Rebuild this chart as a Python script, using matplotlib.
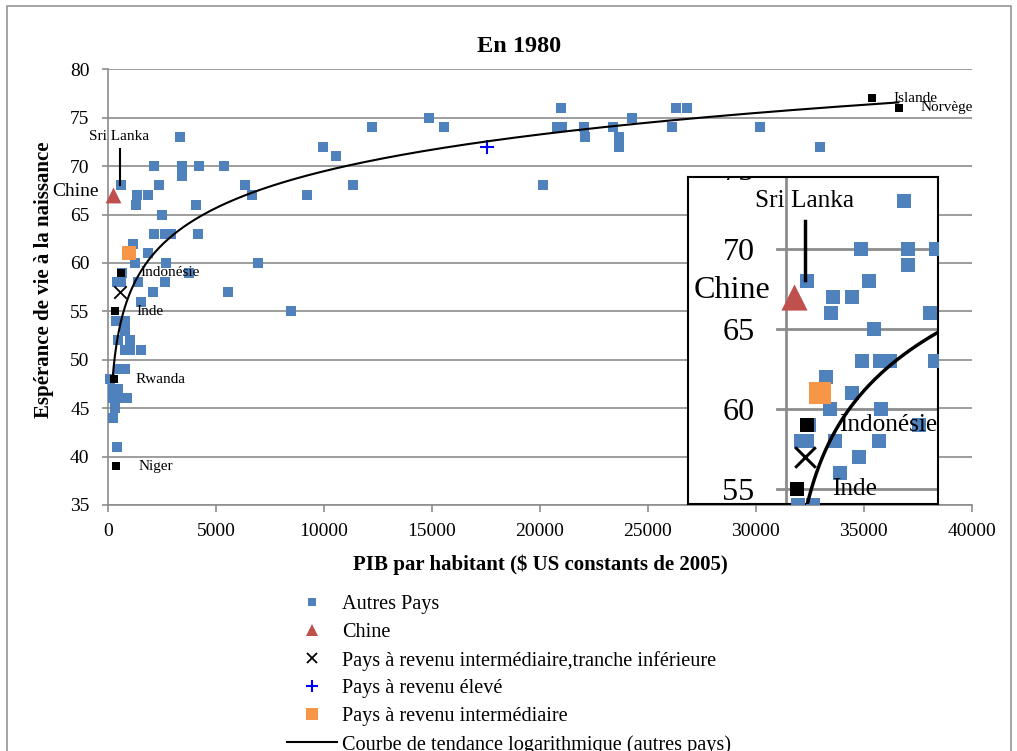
import numpy as np
import matplotlib
matplotlib.use('Agg')
import matplotlib.pyplot as plt
from matplotlib.patches import Rectangle
from matplotlib.lines import Line2D

plt.rcParams['font.family'] = ['Liberation Serif', 'DejaVu Serif']

# ---- data (PIB par habitant, esperance de vie) ----
autres_x = [20992, 26320, 26830,
            14877, 24281,
            12236, 15572, 20807, 21039, 22058, 23401, 26135, 30213,
            3320, 22104, 23679,
            9964, 23679, 32993,
            10554,
            2100, 3420, 4200, 5376,
            3420,
            575, 2330, 6349, 11355, 20158,
            1320, 1857, 6673, 9222,
            1265, 4050,
            2470,
            2140, 2640, 2920, 4174,
            1130,
            1856,
            1240, 2660, 6951,
            650, 3730,
            420, 600, 1380, 2620,
            2055, 5561,
            1510,
            8467,
            340, 770,
            774,
            463, 1006,
            774, 1006, 1515,
            454, 779,
            83,
            222, 450,
            222, 640, 870,
            310,
            232,
            417]
autres_y = [76, 76, 76,
            75, 75,
            74, 74, 74, 74, 74, 74, 74, 74,
            73, 73, 73,
            72, 72, 72,
            71,
            70, 70, 70, 70,
            69,
            68, 68, 68, 68, 68,
            67, 67, 67, 67,
            66, 66,
            65,
            63, 63, 63, 63,
            62,
            61,
            60, 60, 60,
            59, 59,
            58, 58, 58, 58,
            57, 57,
            56,
            55,
            54, 54,
            53,
            52, 52,
            51, 51, 51,
            49, 49,
            48,
            47, 47,
            46, 46, 46,
            45,
            44,
            41]

chine_x, chine_y = [230], [67]
inter_inf_x, inter_inf_y = [520], [57]     # revenu intermediaire, tranche inferieure
eleve_x, eleve_y = [17563], [72]           # revenu eleve
inter_x, inter_y = [965], [61]             # revenu intermediaire

pays_noms = ['Indonésie', 'Inde', 'Rwanda', 'Niger', 'Islande', 'Norvège']
pays_x = [580, 300, 278, 357, 35403, 36639]
pays_y = [59, 55, 48, 39, 77, 76]

# logarithmic trend line of "autres pays" as shown on the chart
trend_a, trend_b = 5.47, 19.1
trend_xmin, trend_xmax = 204, 36600

x_ticks = [0, 5000, 10000, 15000, 20000, 25000, 30000, 35000, 40000]
y_ticks = [35, 40, 45, 50, 55, 60, 65, 70, 75, 80]

# ---- styling ----
BLUE = '#4F81BD'
RED = '#C0504D'
ORANGE = '#F79646'
GRAY = '#8C8C8C'
W, H = 1017, 751

# where the data labels sit (data units)
label_pos = {'Indonésie': (1500, 59), 'Inde': (1300, 55), 'Rwanda': (1270, 48),
             'Niger': (1390, 39), 'Islande': (36366, 77), 'Norvège': (37650, 76.05)}

MAIN_POS = [108.3 / W, 1 - 505 / H, 863.4 / W, 435.7 / H]
INSET_POS = [688.3 / W, 1 - 504.3 / H, 250 / W, 327.6 / H]
INSET_K = 1.653
INSET_XLIM = (-2738, 4269)
INSET_YLIM = (54.06, 74.54)


def draw_series(ax, k=1.0, clip=False):
    ax.scatter(autres_x, autres_y, s=42 * k * k, marker='s', color=BLUE,
               linewidths=0, zorder=3, clip_on=clip)
    ax.scatter(chine_x, chine_y, s=130 * k * k, marker='^', color=RED,
               linewidths=0, zorder=4, clip_on=clip)
    ax.scatter(inter_inf_x, inter_inf_y, s=80 * k * k, marker='x', color='black',
               linewidths=1.3 * k, zorder=4, clip_on=clip)
    ax.scatter(eleve_x, eleve_y, s=110 * k * k, marker='+', color='blue',
               linewidths=1.5 * k, zorder=4, clip_on=clip)
    ax.scatter(inter_x, inter_y, s=100 * k * k, marker='s', color=ORANGE,
               linewidths=0, zorder=4, clip_on=clip)
    ax.scatter(pays_x, pays_y, s=40 * k * k, marker='s', color='black',
               linewidths=0, zorder=4, clip_on=clip)

    xs = np.geomspace(trend_xmin, trend_xmax, 400)
    ax.plot(xs, trend_a * np.log(xs) + trend_b, color='black', lw=1.5 * k,
            zorder=5, clip_on=clip)

    for name in pays_noms:
        tx, ty = label_pos[name]
        ax.text(tx, ty, name, ha='left', va='center', fontsize=11 * k,
                zorder=6, clip_on=clip)

    ax.text(-450, 67.4, 'Chine', ha='right', va='center', fontsize=14 * k,
            zorder=6, clip_on=clip)
    ax.text(520, 73.05, 'Sri Lanka', ha='center', va='center', fontsize=11 * k,
            zorder=6, clip_on=clip)
    ax.plot([530, 530], [71.8, 68.1], color='black', lw=1.5 * k, zorder=6,
            clip_on=clip)


fig = plt.figure(figsize=(W / 100, H / 100), dpi=100)

# ---- main chart ----
ax = fig.add_axes(MAIN_POS)
ax.set_xlim(0, 40000)
ax.set_ylim(35, 80)
ax.set_xticks(x_ticks)
ax.set_yticks(y_ticks)
ax.set_axisbelow(True)
ax.yaxis.grid(True, color=GRAY, lw=1.2)
for side in ['top', 'right']:
    ax.spines[side].set_visible(False)
for side in ['left', 'bottom']:
    ax.spines[side].set_color(GRAY)
    ax.spines[side].set_linewidth(1.2)
ax.tick_params(axis='y', direction='out', length=4, width=1.2, color=GRAY,
               labelsize=14, pad=9.5)
ax.tick_params(axis='x', direction='out', length=5.3, width=1.2, color=GRAY,
               labelsize=14, pad=7.5)

draw_series(ax, 1.0, clip=False)

ax.set_xlabel('PIB par habitant ($ US constants de 2005)', fontsize=15,
              fontweight='bold')
ax.xaxis.set_label_coords(0.5, -0.137)
ax.xaxis.label.set_va('center')
ax.set_ylabel('Espérance de vie à la naissance', fontsize=15, fontweight='bold')
ax.yaxis.set_label_coords(-0.0745, 0.517)
ax.yaxis.label.set_va('center')

fig.text(518.7 / W, 1 - 47 / H, 'En 1980', ha='center', va='center',
         fontsize=17.5, fontweight='bold')

# ---- magnified inset ----
ax_in = fig.add_axes(INSET_POS)
ax_in.set_xlim(*INSET_XLIM)
ax_in.set_ylim(*INSET_YLIM)
ax_in.set_xticks([])
ax_in.set_yticks([])
for sp in ax_in.spines.values():
    sp.set_color('black')
    sp.set_linewidth(1.5)
for v in y_ticks:
    ax_in.plot([-260, INSET_XLIM[1]], [v, v], color=GRAY, lw=1.2 * INSET_K, zorder=1)
    ax_in.text(-880, v, str(v), ha='right', va='center_baseline',
               fontsize=14 * INSET_K, clip_on=True)
ax_in.axvline(0, color=GRAY, lw=1.2 * INSET_K, zorder=1)
draw_series(ax_in, INSET_K, clip=True)

# ---- legend ----
handles = [
    Line2D([], [], ls='none', marker='s', ms=6, color=BLUE, mew=0),
    Line2D([], [], ls='none', marker='^', ms=8.5, color=RED, mew=0),
    Line2D([], [], ls='none', marker='x', ms=7, color='black', mew=1.3),
    Line2D([], [], ls='none', marker='+', ms=8, color='blue', mew=1.5),
    Line2D([], [], ls='none', marker='s', ms=8, color=ORANGE, mew=0),
    Line2D([], [], color='black', lw=1.5),
]
labels = ['Autres Pays', 'Chine',
          'Pays à revenu intermédiaire,tranche inférieure',
          'Pays à revenu élevé', 'Pays à revenu intermédiaire',
          'Courbe de tendance logarithmique (autres pays)']
fig.legend(handles, labels, loc='upper left',
           bbox_to_anchor=(286.7 / W, 1 - 595 / H), frameon=False,
           fontsize=14.6, handlelength=2.47, handletextpad=0.25,
           labelspacing=0.425, borderpad=0, borderaxespad=0)

# outer chart frame
fig.add_artist(Rectangle((7 / W, -0.05), (1011 - 7) / W, 1 - 6 / H + 0.05,
                         transform=fig.transFigure, fill=False,
                         edgecolor=GRAY, lw=1.1))

fig.savefig('out.png', dpi=100)
